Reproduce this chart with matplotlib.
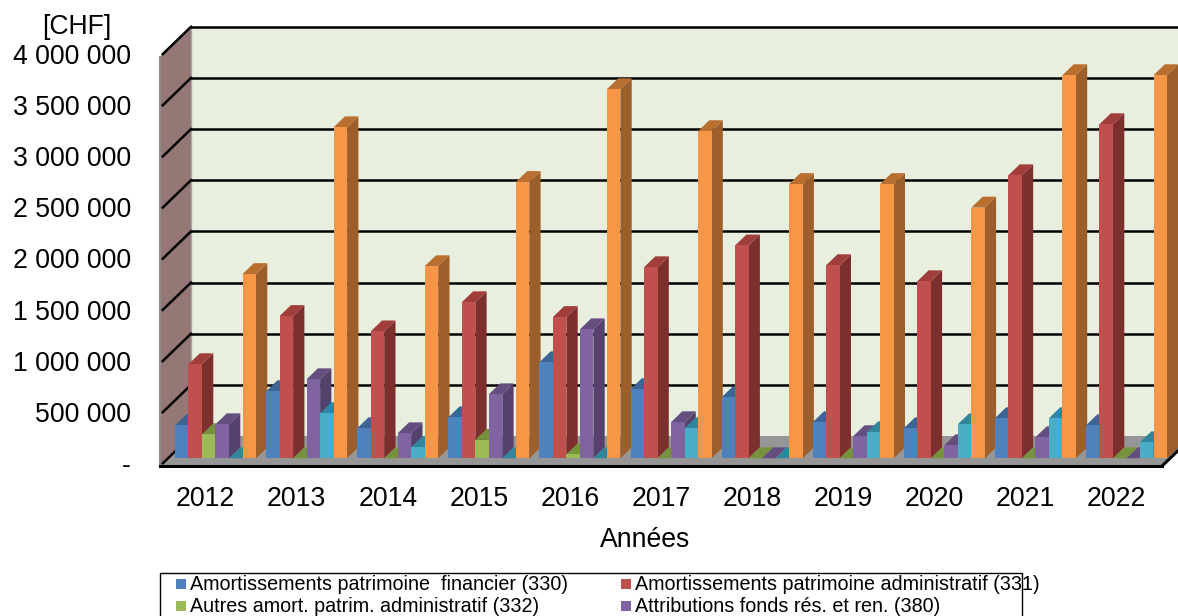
import matplotlib
matplotlib.use("Agg")
import matplotlib.pyplot as plt
from matplotlib.patches import Polygon, Rectangle

plt.rcParams['font.family'] = ['Liberation Sans', 'DejaVu Sans']

# data
years = ['2012', '2013', '2014', '2015', '2016', '2017', '2018', '2019', '2020', '2021', '2022']
s330 = [322000, 655000, 293000, 400000, 938000, 675000, 596000, 352000, 293000, 391000, 322000]
s331 = [919000, 1390000, 1240000, 1525000, 1380000, 1867000, 2080000, 1887000, 1730000, 2766000, 3265000]
s332 = [235000, 0, 0, 180000, 40000, 0, 0, 0, 0, 0, 0]
s380 = [332000, 772000, 244000, 625000, 1260000, 352000, 0, 215000, 127000, 205000, 0]
s381 = [0, 440000, 108000, 0, 0, 293000, 0, 254000, 332000, 391000, 156000]
s389 = [1800000, 3235000, 1877000, 2700000, 3607000, 3197000, 2680000, 2680000, 2450000, 3744000, 3744000]
ticks = [0, 500000, 1000000, 1500000, 2000000, 2500000, 3000000, 3500000, 4000000]
tick_labels = ['-', '500 000', '1 000 000', '1 500 000', '2 000 000', '2 500 000',
               '3 000 000', '3 500 000', '4 000 000']
legend_names = ['Amortissements patrimoine  financier (330)', 'Amortissements patrimoine administratif (331)',
                'Autres amort. patrim. administratif (332)', 'Attributions fonds rés. et ren. (380)']

series = [s330, s331, s332, s380, s381, s389]
front_cols = ['#4F81BD', '#C0504D', '#9BBB59', '#8064A2', '#4BACC6', '#F79646']
top_cols = ['#3C6494', '#A03E3C', '#76923C', '#644E80', '#31859C', '#B96F30']
side_cols = ['#34567F', '#7D2F2D', '#5F7830', '#54426C', '#2A7186', '#9C5E2A']

W, H = 1178, 616
CAT = 91.1          # px per category
PX = 9775.0         # CHF per px
X0, Y0 = 160, 466   # front left corner of the floor, px
DX = 31 / CAT       # full depth of the box
DY = 30 * PX
BAR_W = 13.5 / CAT
BAR_D0 = 8 / 31
BAR_D1 = 19.3 / 31
BAR_START = 7 / CAT


def proj(x, y, d):
    # front plane -> depth d (0 front, 1 back wall)
    return x + d * DX, y + d * DY


fig = plt.figure(figsize=(W / 100, H / 100), dpi=100)
ax = fig.add_axes([0, 0, 1, 1])
ax.set_xlim(-X0 / CAT, (W - X0) / CAT)
ax.set_ylim(-(H - Y0) * PX, Y0 * PX)
ax.axis('off')

n = len(years)
ymax = ticks[-1]
xr = n + 2 * DX

# walls and floor
ax.add_patch(Polygon([proj(0, 0, 1), proj(xr, 0, 1), proj(xr, ymax, 1), proj(0, ymax, 1)],
                     fc='#E9EFDF', ec='none', zorder=1))
ax.add_patch(Polygon([proj(0, 0, 0), proj(0, 0, 1), proj(0, ymax, 1), proj(0, ymax, 0)],
                     fc='#957775', ec='none', zorder=2))
ax.add_patch(Polygon([proj(0, 0, 0), proj(n, 0, 0), proj(n, 0, 1), proj(0, 0, 1)],
                     fc='#969696', ec='none', zorder=2))
ax.plot([proj(0, 0, 0)[0]] * 2, [0, ymax], color='#8C8C8C', lw=1.5, zorder=2)
ax.plot([proj(0, 0, 1)[0]] * 2, [proj(0, 0, 1)[1], proj(0, ymax, 1)[1]], color='#A8A8A8', lw=1, zorder=2)

for t in ticks:
    xa, ya = proj(0, t, 0)
    xb, yb = proj(0, t, 1)
    ax.plot([xa + 0.03, xb], [ya + 0.03 * DY / DX, yb], color='black', lw=1.8, zorder=3)
    if t > 0:
        ax.plot([xb, xr], [yb, yb], color='black', lw=1.8, zorder=3)

# floor edges
ax.plot([0, n], [0, 0], color='black', lw=2.2, zorder=3)
xa, ya = proj(n, 0, 0)
xb, yb = proj(n, 0, 1)
ax.plot([xa, xb], [ya, yb], color='black', lw=2.2, zorder=3)

# bars, left to right so that each one hides the side of the previous one
z = 4
for i in range(n):
    for j, vals in enumerate(series):
        v = vals[i]
        x = i + BAR_START + j * BAR_W
        x1 = x + BAR_W
        p = lambda xx, yy, d: proj(xx, yy, d)
        if v > 0:
            ax.add_patch(Polygon([p(x1, 0, BAR_D0), p(x1, 0, BAR_D1), p(x1, v, BAR_D1), p(x1, v, BAR_D0)],
                                 fc=side_cols[j], ec='none', zorder=z))
        ax.add_patch(Polygon([p(x, v, BAR_D0), p(x1, v, BAR_D0), p(x1, v, BAR_D1), p(x, v, BAR_D1)],
                             fc=top_cols[j], ec='none', zorder=z))
        if v > 0:
            ax.bar(x + BAR_D0 * DX, v, width=BAR_W, bottom=BAR_D0 * DY, align='edge',
                   color=front_cols[j], zorder=z + 0.5)
        z += 1

# axis texts
tick_x = (131 - X0) / CAT
for t, lab in zip(ticks, tick_labels):
    ax.text(tick_x, t, lab, ha='right', va='center', fontsize=19.2, color='black')
for i, lab in enumerate(years):
    ax.text(i + 0.5, -33 * PX, lab, ha='center', va='center', fontsize=19.2, color='black')
ax.text((645 - X0) / CAT, (Y0 - 540) * PX, 'Années', ha='center', va='center', fontsize=19.2)
ax.text((77 - X0) / CAT, (Y0 - 27) * PX, '[CHF]', ha='center', va='center', fontsize=19.2)

# legend, its bottom is cut by the edge of the picture
ax.add_patch(Rectangle(((160 - X0) / CAT, (Y0 - 640) * PX), 862 / CAT, 67 * PX,
                       fc='white', ec='black', lw=1, zorder=50, clip_on=True))
leg_x = [176, 621]
leg_y = [584, 606]
for k, name in enumerate(legend_names):
    col = k % 2
    row = k // 2
    ax.add_patch(Rectangle(((leg_x[col] - X0) / CAT, (Y0 - leg_y[row] - 5) * PX), 10 / CAT, 10 * PX,
                           fc=front_cols[k], ec='none', zorder=51))
    ax.text((leg_x[col] + 14 - X0) / CAT, (Y0 - leg_y[row]) * PX, name, ha='left', va='center',
            fontsize=14.2, zorder=51)

fig.savefig('out.png', dpi=100)
